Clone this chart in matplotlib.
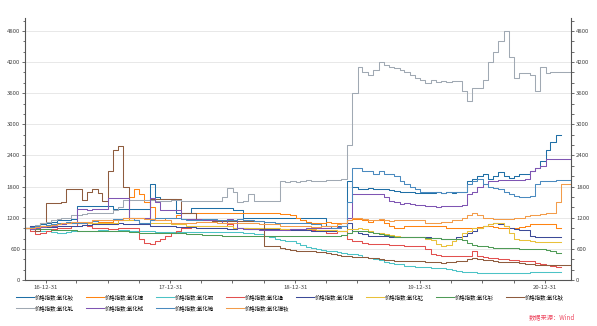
import matplotlib.pyplot as plt
import matplotlib.dates as mdates
import numpy as np
import pandas as pd

plt.rcParams['font.family'] = ['Noto Sans CJK SC', 'DejaVu Sans']

# semi-monthly samples, 2016-11-01 .. 2021-03-15 (106 points)
dates = pd.date_range('2016-11-01', '2021-03-15', freq='SMS')
nan = np.nan

nd = [1000, 1050, 1000, 1080,
      1100, 1120, 1150, 1150, 1150, 1180, 1430, 1430, 1430, 1420, 1430, 1430,
      1430, 1370, 1370, 1370, 1370, 1370, 1370, 1370, 1850, 1600, 1570, 1570,
      1570, 1300, 1300, 1300, 1390, 1390, 1390, 1390, 1390, 1390, 1390, 1390,
      1340, 1340, 1200, 1200, 1200, 1200, 1200, 1200, 1200, 1200, 1200, 1200,
      1200, 1200, 1200, 1200, 1200, 1200, 1050, 1050, 1050, 1050, 1900, 1800,
      1750, 1750, 1780, 1750, 1750, 1760, 1740, 1720, 1700, 1700, 1700, 1680,
      1680, 1680, 1670, 1700, 1680, 1690, 1680, 1700, 1700, 1900, 1950, 2000,
      2050, 1950, 2000, 2080, 2000, 1970, 2000, 2050, 2050, 2100, 2150, 2300,
      2500, 2650, 2800, nan, nan, nan]

dy = [1000, 1020, 1050, 1050,
      1050, 1050, 1080, 1080, 1100, 1100, 1100, 1100, 1100, 1100, 1120, 1120,
      1120, 1150, 1150, 1150, 1600, 1750, 1650, 1500, 1400, 1150, 1150, 1200,
      1200, 1250, 1300, 1300, 1300, 1300, 1300, 1300, 1300, 1300, 1300, 1300,
      1300, 1300, 1290, 1290, 1290, 1300, 1300, 1300, 1300, 1280, 1280, 1250,
      1200, 1150, 1120, 1100, 1100, 1100, 1120, 1100, 1100, 1100, 1150, 1180,
      1180, 1150, 1120, 1150, 1150, 1100, 1050, 1000, 1000, 1050, 1050, 1050,
      1050, 1050, 1050, 1050, 1050, 1000, 1000, 1000, 1000, 1000, 1000, 1020,
      1050, 1050, 1020, 1000, 1000, 1000, 1000, 1020, 1050, 1080, 1080, 1080,
      1080, 1080, 1000, nan, nan, nan]

er = [1000, 980, 950, 950,
      950, 920, 900, 900, 930, 950, 950, 950, 950, 950, 960, 960,
      950, 950, 960, 960, 950, 950, 950, 940, 940, 930, 930, 930,
      930, 930, 930, 930, 920, 920, 920, 930, 930, 930, 930, 920,
      920, 920, 900, 900, 880, 880, 850, 820, 800, 780, 760, 750,
      720, 680, 640, 620, 600, 580, 560, 560, 540, 520, 500, 500,
      480, 450, 420, 400, 380, 350, 330, 300, 300, 280, 270, 260,
      250, 250, 240, 240, 230, 220, 200, 180, 160, 150, 150, 140,
      140, 140, 140, 130, 130, 130, 130, 140, 140, 150, 150, 160,
      160, 160, 160, nan, nan, nan]

lu = [1000, 950, 880, 900,
      950, 980, 1000, 1000, 1000, 1050, 1100, 1100, 1050, 1000, 1000, 1000,
      980, 980, 1000, 1000, 1000, 1000, 800, 720, 700, 750, 800, 850,
      900, 950, 1000, 1000, 1050, 1050, 1050, 1050, 1050, 1050, 1050, 1080,
      1000, 1000, 1000, 990, 990, 990, 990, 990, 990, 990, 980, 980,
      980, 970, 970, 960, 960, 960, 900, 900, 950, 950, 800, 750,
      750, 720, 700, 700, 700, 690, 680, 680, 670, 660, 650, 650,
      650, 600, 500, 480, 470, 460, 460, 460, 460, 460, 560, 470,
      450, 430, 420, 400, 400, 390, 380, 370, 370, 370, 330, 300,
      290, 280, 260, nan, nan, nan]

pr = [1000, 1050, 1050, 1020,
      1020, 1030, 1040, 1050, 1050, 1050, 1050, 1060, 1060, 1070, 1070, 1070,
      1080, 1080, 1090, 1080, 1080, 1080, 1080, 1080, 1050, 1050, 1050, 1040,
      1040, 1030, 1030, 1030, 1030, 1000, 1000, 1000, 1000, 1000, 1000, 990,
      990, 1000, 1000, 990, 990, 980, 980, 980, 980, 980, 970, 970,
      960, 960, 960, 950, 950, 950, 950, 950, 950, 950, 1100, 950,
      900, 880, 850, 850, 840, 840, 830, 830, 820, 820, 820, 820,
      820, 820, 810, 810, 800, 800, 800, 820, 850, 900, 950, 1000,
      1050, 1080, 1100, 1080, 1050, 1000, 980, 970, 960, 850, 820, 820,
      820, 820, 820, nan, nan, nan]

yt = [1000, 1020, 1050, 1050,
      1050, 1080, 1080, 1100, 1100, 1100, 1100, 1100, 1100, 1100, 1100, 1100,
      1100, 1100, 1150, 1150, 1150, 1150, 1100, 1100, 1100, 1100, 1100, 1100,
      1080, 1080, 1080, 1050, 1050, 1050, 1050, 1050, 1050, 1050, 1050, 1050,
      1000, 1000, 1000, 1000, 1000, 1000, 1000, 1000, 1000, 980, 980, 980,
      980, 980, 980, 980, 960, 960, 960, 960, 950, 950, 980, 980,
      1000, 980, 950, 900, 900, 880, 860, 850, 830, 820, 820, 820,
      820, 800, 780, 700, 650, 680, 750, 800, 900, 950, 1000, 1000,
      1050, 1080, 1100, 1100, 1050, 900, 800, 780, 780, 760, 740, 730,
      730, 730, 730, nan, nan, nan]

sm = [1000, 1000, 980, 980,
      980, 970, 970, 960, 960, 960, 950, 950, 950, 950, 950, 950,
      950, 940, 940, 940, 920, 920, 900, 900, 900, 900, 900, 900,
      900, 900, 900, 880, 880, 880, 860, 860, 860, 860, 850, 850,
      850, 850, 850, 850, 850, 850, 850, 850, 850, 850, 850, 840,
      840, 840, 840, 840, 840, 850, 850, 850, 850, 860, 900, 950,
      950, 950, 930, 900, 880, 860, 840, 820, 820, 820, 820, 820,
      820, 810, 810, 810, 800, 800, 800, 800, 780, 720, 680, 650,
      650, 640, 620, 620, 610, 610, 610, 600, 600, 600, 600, 600,
      580, 560, 520, nan, nan, nan]

ho = [1000, 980, 950, 1100,
      1480, 1480, 1490, 1500, 1750, 1750, 1760, 1550, 1700, 1760, 1680, 1530,
      2100, 2500, 2580, 1800, 1200, 1200, 1200, 1200, 1570, 1570, 1570, 1570,
      1570, 1570, 1300, 1300, 1300, 1150, 1150, 1150, 1140, 1140, 1140, 1140,
      1140, 1140, 1140, 1130, 1130, 1130, 660, 660, 660, 620, 600, 580,
      560, 560, 560, 550, 540, 540, 520, 500, 480, 470, 460, 450,
      450, 440, 430, 420, 400, 380, 380, 370, 370, 360, 360, 360,
      360, 350, 350, 350, 330, 340, 350, 360, 370, 400, 420, 400,
      390, 380, 370, 350, 350, 340, 340, 330, 310, 300, 290, 290,
      290, 290, 290, 290, 290, 290]

gd = [1000, 1030, 1060, 1100,
      1120, 1150, 1180, 1200, 1200, 1250, 1250, 1280, 1300, 1300, 1300, 1300,
      1300, 1350, 1400, 1550, 1550, 1550, 1550, 1550, 1550, 1520, 1520, 1520,
      1550, 1550, 1520, 1520, 1520, 1530, 1530, 1530, 1530, 1530, 1600, 1780,
      1700, 1500, 1520, 1650, 1530, 1530, 1530, 1530, 1530, 1900, 1880, 1900,
      1880, 1900, 1920, 1900, 1900, 1900, 1920, 1920, 1930, 1950, 2600, 3600,
      4100, 4000, 3950, 4050, 4200, 4150, 4100, 4080, 4050, 4000, 3950, 3900,
      3850, 3800, 3850, 3820, 3830, 3820, 3830, 3830, 3650, 3450, 3700, 3700,
      3850, 4200, 4400, 4600, 4800, 4300, 3900, 3980, 3980, 3950, 3650, 4100,
      3980, 4000, 4010, 4010, 4010, 4010]

tb = [1000, 980, 1000, 1020,
      1050, 1050, 1080, 1080, 1100, 1100, 1370, 1370, 1350, 1370, 1370, 1370,
      1590, 1590, 1590, 1590, 1200, 1200, 1200, 1200, 1590, 1500, 1340, 1340,
      1340, 1340, 1180, 1180, 1180, 1180, 1150, 1150, 1150, 1150, 1100, 1180,
      1150, 1000, 980, 980, 980, 970, 970, 960, 960, 960, 970, 980,
      980, 990, 1000, 1000, 1000, 1000, 1000, 1000, 1020, 1050, 1200, 1660,
      1660, 1660, 1660, 1660, 1660, 1600, 1520, 1500, 1470, 1480, 1460, 1450,
      1450, 1420, 1420, 1400, 1420, 1420, 1420, 1430, 1450, 1660, 1700, 1800,
      1850, 1900, 1910, 1920, 1930, 1930, 1930, 1930, 1950, 2100, 2150, 2200,
      2340, 2340, 2340, 2340, 2340, 2340]

eu = [1000, 1020, 1040, 1050,
      1060, 1080, 1100, 1100, 1120, 1100, 1100, 1100, 1120, 1130, 1150, 1150,
      1150, 1180, 1180, 1200, 1200, 1150, 1100, 1100, 1150, 1200, 1200, 1200,
      1200, 1200, 1180, 1150, 1150, 1150, 1180, 1180, 1180, 1150, 1150, 1150,
      1150, 1180, 1150, 1150, 1130, 1130, 1120, 1120, 1100, 1100, 1100, 1100,
      1100, 1100, 1100, 1080, 1080, 1050, 1050, 1000, 1000, 1050, 1500, 2150,
      2150, 2100, 2100, 2050, 2100, 2050, 2050, 2000, 1900, 1850, 1800, 1750,
      1700, 1700, 1690, 1700, 1680, 1700, 1700, 1700, 1700, 1850, 1900, 1950,
      1850, 1800, 1780, 1750, 1700, 1650, 1620, 1600, 1600, 1620, 1850, 1900,
      1900, 1900, 1935, 1935, 1935, 1935]

prnd = [1000, 1000, 1020, 1050,
        1050, 1060, 1080, 1100, 1100, 1120, 1120, 1120, 1120, 1150, 1150, 1150,
        1150, 1150, 1150, 1200, 1200, 1200, 1200, 1180, 1180, 1150, 1150, 1150,
        1100, 1100, 1100, 1100, 1100, 1120, 1120, 1120, 1120, 1100, 1100, 1100,
        1100, 1100, 1100, 1100, 1100, 1080, 1080, 1080, 1080, 1050, 1050, 1050,
        1050, 1050, 1050, 1030, 1030, 1050, 1050, 1050, 1080, 1100, 1150, 1200,
        1200, 1180, 1150, 1150, 1180, 1150, 1130, 1150, 1150, 1150, 1150, 1150,
        1150, 1100, 1100, 1100, 1120, 1120, 1150, 1150, 1200, 1250, 1300, 1250,
        1200, 1200, 1180, 1180, 1180, 1180, 1200, 1200, 1230, 1250, 1250, 1280,
        1300, 1300, 1500, 1850, 1850, 1850]

names = ['价格指数:氧化钕', '价格指数:氧化镝', '价格指数:氧化铒', '价格指数:氧化镥',
         '价格指数:氧化镨', '价格指数:氧化钇', '价格指数:氧化钐', '价格指数:氧化钬',
         '价格指数:氧化钆', '价格指数:氧化铽', '价格指数:氧化铕', '价格指数:氧化镨钕']
series = [nd, dy, er, lu, pr, yt, sm, ho, gd, tb, eu, prnd]
colors = ['#1f6fa6', '#ff8412', '#4cc3c6', '#e2504f', '#3c4a98', '#e9c13a',
          '#4f9b57', '#8e5c3e', '#a0a9b3', '#7f55b3', '#4a8abf', '#f39c4a']

fig = plt.figure(figsize=(5.97, 3.26), dpi=100)
ax = fig.add_axes([0.042, 0.141, 0.915, 0.804])

lines = []
for name, vals, c in zip(names, series, colors):
    ln, = ax.plot(dates, vals, drawstyle='steps-post', color=c, lw=0.75, label=name)
    lines.append(ln)

ax.set_xlim(pd.Timestamp('2016-11-01'), pd.Timestamp('2021-03-17'))
ax.set_ylim(0, 5050)
ax.set_yticks(np.arange(0, 4801, 600))
ax.yaxis.set_minor_locator(plt.MultipleLocator(200))
ax.grid(axis='y', color='#e8e8e8', lw=0.7)
ax.set_axisbelow(True)

ax.xaxis.set_major_locator(mdates.MonthLocator(bymonth=12, bymonthday=31))
ax.xaxis.set_major_formatter(mdates.DateFormatter('%y-%m-%d'))
ax.xaxis.set_minor_locator(mdates.MonthLocator(bymonth=(3, 6, 9), bymonthday=-1))

ax.tick_params(which='both', direction='out', color='#555555', width=0.6,
               labelsize=4.3, labelcolor='#444444', pad=1)
ax.tick_params(which='major', length=2.5)
ax.tick_params(which='minor', length=1.8)
ax.tick_params(axis='y', which='both', right=True, labelright=True)

for side in ['left', 'right', 'bottom']:
    ax.spines[side].set_color('#555555')
    ax.spines[side].set_linewidth(0.8)
ax.spines['top'].set_visible(False)

# legend: 8 entries on the first row, 4 on the second, same column grid
leg_kw = dict(loc='upper left', frameon=False, fontsize=3.9, handlelength=3.2,
              handletextpad=0.25, columnspacing=2.25, borderaxespad=0)
fig.legend(lines[:8], names[:8], ncol=8,
           bbox_to_anchor=(0.024, 0.104), **leg_kw)
fig.legend(lines[8:], names[8:], ncol=4,
           bbox_to_anchor=(0.024, 0.070), **leg_kw)

fig.text(0.963, 0.015, '数据来源：Wind', color='#ee4a62', fontsize=4.5,
         ha='right', va='bottom', style='italic')

fig.savefig('out.png', dpi=100)
